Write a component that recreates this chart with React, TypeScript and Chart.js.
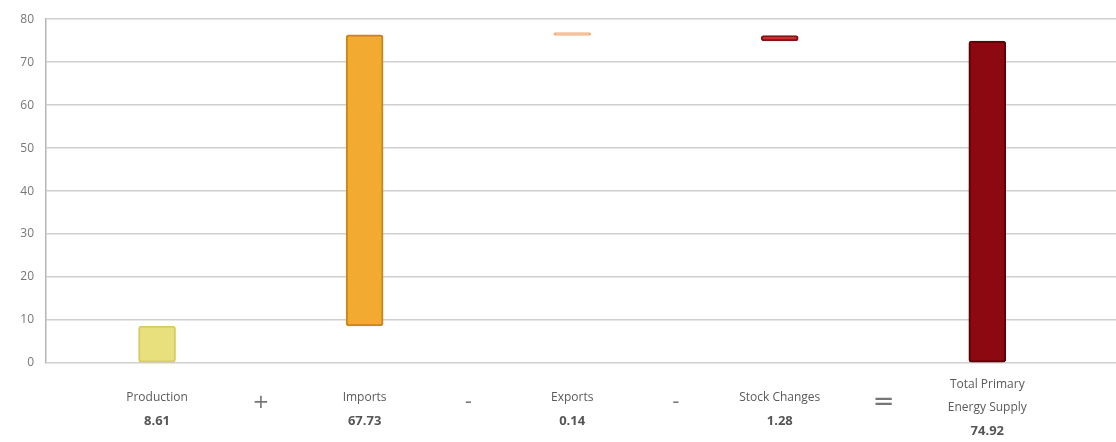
import React, { useEffect, useRef } from "react";
import { Chart, registerables } from "chart.js";

Chart.register(...registerables);

const categories = ["Production", "Imports", "Exports", "Stock Changes", "Total Primary\nEnergy Supply"];
const values = [8.61, 67.73, 0.14, 1.28, 74.92];
const valueLabels = ["8.61", "67.73", "0.14", "1.28", "74.92"];
const operators = ["+", "-", "-", "="];
const signs = [1, 1, -1, -1, 0];
const fills = ["#e8e07c", "#f2ab30", "#f6c49a", "#d32a2c", "#8c0912"];
const borders = ["#d6cd62", "#c88519", "#f0b080", "#7e1414", "#5a0006"];
const yTicks = [0, 10, 20, 30, 40, 50, 60, 70, 80];

function buildRanges(): [number, number][] {
  const out: [number, number][] = [];
  let level = 0;
  values.forEach((v, i) => {
    if (signs[i] === 0) {
      out.push([0, v]);
    } else if (signs[i] > 0) {
      out.push([level, level + v]);
      level += v;
    } else {
      out.push([level - v, level]);
      level -= v;
    }
  });
  return out;
}

const labelPlugin = {
  id: "wfLabels",
  afterDraw(chart: any) {
    const ctx = chart.ctx;
    const xs = chart.scales.x;
    ctx.save();
    ctx.textAlign = "center";
    ctx.textBaseline = "middle";
    categories.forEach((c, i) => {
      const x = xs.getPixelForValue(i);
      const lines = c.split("\n");
      const startY = lines.length > 1 ? 385 : 398;
      ctx.font = "12px 'Open Sans', sans-serif";
      ctx.fillStyle = "#5a5a5a";
      lines.forEach((l, j) => ctx.fillText(l, x, startY + j * 23));
      ctx.font = "bold 13px 'Open Sans', sans-serif";
      ctx.fillStyle = "#555";
      ctx.fillText(valueLabels[i], x, startY + lines.length * 23);
    });
    operators.forEach((op, i) => {
      const x = xs.getPixelForValue(i + 0.5);
      ctx.font = op === "=" ? "26px 'DejaVu Sans', sans-serif" : "20px 'DejaVu Sans', sans-serif";
      ctx.fillStyle = "#777";
      ctx.fillText(op, x, 403);
    });
    ctx.restore();
  },
};

export default function App() {
  const ref = useRef<HTMLCanvasElement | null>(null);
  useEffect(() => {
    document.body.style.margin = "0";
    const ranges = buildRanges();
    const chart = new Chart(ref.current as HTMLCanvasElement, {
      type: "bar",
      data: {
        datasets: [
          {
            data: ranges.map((r, i) => ({ x: i, y: r })) as any,
            backgroundColor: fills,
            borderColor: borders,
            borderWidth: 2,
            borderSkipped: false,
            borderRadius: 3,
            barThickness: 37,
            minBarLength: 3,
          },
        ],
      },
      options: {
        animation: false,
        responsive: false,
        maintainAspectRatio: false,
        plugins: { legend: { display: false }, tooltip: { enabled: false } },
        layout: { padding: { top: 16, bottom: 71, right: 0, left: 0 } },
        scales: {
          x: {
            type: "linear",
            offset: false,
            min: -0.535,
            max: 4.62,
            ticks: { display: false },
            grid: { display: false, offset: false },
            border: { display: false },
          },
          y: {
            min: 0,
            max: 80,
            afterFit: (s: any) => {
              s.width = 46;
            },
            afterBuildTicks: (s: any) => {
              s.ticks = yTicks.map((v) => ({ value: v }));
            },
            ticks: {
              color: "#777",
              font: { size: 12, family: "'Open Sans', sans-serif" },
              padding: 12,
            },
            grid: { color: "#cfcfcf", lineWidth: 1.5, drawTicks: false },
            border: { color: "#b5b5b5", width: 1.5 },
          },
        },
      },
      plugins: [labelPlugin],
    });
    return () => chart.destroy();
  }, []);
  return (
    <div style={{ width: 1116, height: 442 }}>
      <canvas ref={ref} width={1116} height={442} style={{ display: "block" }} />
    </div>
  );
}
